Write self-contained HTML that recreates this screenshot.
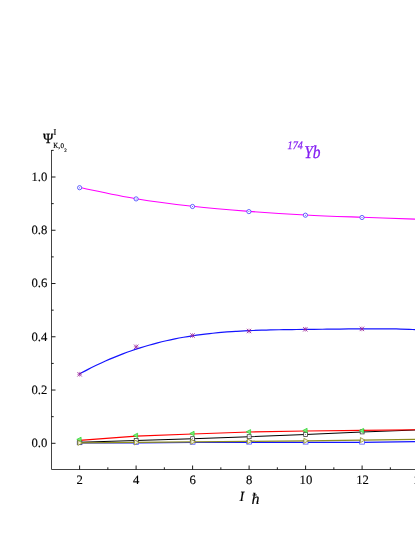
<!DOCTYPE html>
<html><head><meta charset="utf-8"><title>174Yb</title>
<style>
html,body{margin:0;padding:0;background:#fff;}
body{width:415px;height:537px;overflow:hidden;position:relative;font-family:"Liberation Serif",serif;}
svg{position:absolute;left:0;top:0;will-change:transform;text-rendering:geometricPrecision;}
text{font-family:"Liberation Serif",serif;fill:#000;}
.tk{font-size:12.7px;stroke:#000;stroke-width:0.13px;}
.b{stroke:#000;stroke-width:0.18px;}
</style></head><body>
<svg width="415" height="537" viewBox="0 0 415 537">
<path d="M51.5 150.0V469.5H415" fill="none" stroke="#444" stroke-width="1"/>
<path d="M51.5 443.30h4M51.5 416.67h2.2M51.5 390.04h4M51.5 363.41h2.2M51.5 336.78h4M51.5 310.15h2.2M51.5 283.52h4M51.5 256.89h2.2M51.5 230.26h4M51.5 203.63h2.2M51.5 177.00h4M51.5 150.37h2.2M79.60 469.5v-4M107.85 469.5v-2.2M136.10 469.5v-4M164.35 469.5v-2.2M192.60 469.5v-4M220.85 469.5v-2.2M249.10 469.5v-4M277.35 469.5v-2.2M305.60 469.5v-4M333.85 469.5v-2.2M362.10 469.5v-4M390.35 469.5v-2.2" fill="none" stroke="#000" stroke-width="0.9"/>
<text x="47.3" y="447.20" text-anchor="end" class="tk">0.0</text>
<text x="47.3" y="393.94" text-anchor="end" class="tk">0.2</text>
<text x="47.3" y="340.68" text-anchor="end" class="tk">0.4</text>
<text x="47.3" y="287.42" text-anchor="end" class="tk">0.6</text>
<text x="47.3" y="234.16" text-anchor="end" class="tk">0.8</text>
<text x="47.3" y="180.90" text-anchor="end" class="tk">1.0</text>
<text x="79.60" y="483.8" text-anchor="middle" class="tk">2</text>
<text x="136.10" y="483.8" text-anchor="middle" class="tk">4</text>
<text x="192.60" y="483.8" text-anchor="middle" class="tk">6</text>
<text x="249.10" y="483.8" text-anchor="middle" class="tk">8</text>
<text x="305.90" y="483.8" text-anchor="middle" class="tk">10</text>
<text x="362.50" y="483.8" text-anchor="middle" class="tk">12</text>
<text x="419.60" y="483.8" text-anchor="middle" class="tk">14</text>
<path d="M79.60 443.00L136.10 442.90L192.60 442.50L249.10 442.40L305.60 442.40L362.10 442.40L418.60 441.60" fill="none" stroke="#1414ff" stroke-width="1.2" stroke-linejoin="round"/>
<rect x="77.20" y="441.10" width="4.8" height="3.6" fill="#fff" stroke="#3a3aff" stroke-width="0.7"/>
<rect x="133.70" y="441.00" width="4.8" height="3.6" fill="#fff" stroke="#3a3aff" stroke-width="0.7"/>
<rect x="190.20" y="440.60" width="4.8" height="3.6" fill="#fff" stroke="#3a3aff" stroke-width="0.7"/>
<rect x="246.70" y="440.50" width="4.8" height="3.6" fill="#fff" stroke="#3a3aff" stroke-width="0.7"/>
<rect x="303.20" y="440.50" width="4.8" height="3.6" fill="#fff" stroke="#3a3aff" stroke-width="0.7"/>
<rect x="359.70" y="440.50" width="4.8" height="3.6" fill="#fff" stroke="#3a3aff" stroke-width="0.7"/>
<rect x="416.20" y="439.70" width="4.8" height="3.6" fill="#fff" stroke="#3a3aff" stroke-width="0.7"/>
<path d="M79.60 442.30L136.10 440.50L192.60 438.70L249.10 436.70L305.60 434.50L362.10 431.90L418.60 429.90" fill="none" stroke="#000" stroke-width="1.05" stroke-linejoin="round"/>
<rect x="77.70" y="440.30" width="3.9" height="4.0" fill="#fff" stroke="#333" stroke-width="0.75"/><circle cx="79.60" cy="442.30" r="0.45" fill="#222"/>
<rect x="134.20" y="438.50" width="3.9" height="4.0" fill="#fff" stroke="#333" stroke-width="0.75"/><circle cx="136.10" cy="440.50" r="0.45" fill="#222"/>
<rect x="190.70" y="436.70" width="3.9" height="4.0" fill="#fff" stroke="#333" stroke-width="0.75"/><circle cx="192.60" cy="438.70" r="0.45" fill="#222"/>
<rect x="247.20" y="434.70" width="3.9" height="4.0" fill="#fff" stroke="#333" stroke-width="0.75"/><circle cx="249.10" cy="436.70" r="0.45" fill="#222"/>
<rect x="303.70" y="432.50" width="3.9" height="4.0" fill="#fff" stroke="#333" stroke-width="0.75"/><circle cx="305.60" cy="434.50" r="0.45" fill="#222"/>
<rect x="360.20" y="429.90" width="3.9" height="4.0" fill="#fff" stroke="#333" stroke-width="0.75"/><circle cx="362.10" cy="431.90" r="0.45" fill="#222"/>
<rect x="416.70" y="427.90" width="3.9" height="4.0" fill="#fff" stroke="#333" stroke-width="0.75"/><circle cx="418.60" cy="429.90" r="0.45" fill="#222"/>
<path d="M79.60 440.30L136.10 436.10L192.60 434.00L249.10 432.00L305.60 431.00L362.10 430.40L418.60 429.70" fill="none" stroke="#ff0000" stroke-width="1.2" stroke-linejoin="round"/>
<path d="M81.10 437.20L76.80 439.40L81.10 441.60Z" fill="#7dea7d" stroke="#30d630" stroke-width="0.75"/>
<path d="M137.60 433.20L133.30 435.40L137.60 437.60Z" fill="#7dea7d" stroke="#30d630" stroke-width="0.75"/>
<path d="M194.10 431.30L189.80 433.50L194.10 435.70Z" fill="#7dea7d" stroke="#30d630" stroke-width="0.75"/>
<path d="M250.60 429.60L246.30 431.80L250.60 434.00Z" fill="#7dea7d" stroke="#30d630" stroke-width="0.75"/>
<path d="M307.10 428.30L302.80 430.50L307.10 432.70Z" fill="#7dea7d" stroke="#30d630" stroke-width="0.75"/>
<path d="M363.60 428.40L359.30 430.60L363.60 432.80Z" fill="#7dea7d" stroke="#30d630" stroke-width="0.75"/>
<path d="M420.10 427.30L415.80 429.50L420.10 431.70Z" fill="#7dea7d" stroke="#30d630" stroke-width="0.75"/>
<path d="M79.60 442.90L136.10 442.40L192.60 441.80L249.10 441.30L305.60 440.80L362.10 440.10L418.60 439.30" fill="none" stroke="#8c8c1e" stroke-width="1.25" stroke-linejoin="round"/>
<path d="M77.90 440.40L82.40 442.90L77.90 445.40Z" fill="#f3f0e2" stroke="#8c8c1e" stroke-width="0.75"/>
<path d="M134.40 439.90L138.90 442.40L134.40 444.90Z" fill="#f3f0e2" stroke="#8c8c1e" stroke-width="0.75"/>
<path d="M190.90 439.30L195.40 441.80L190.90 444.30Z" fill="#f3f0e2" stroke="#8c8c1e" stroke-width="0.75"/>
<path d="M247.40 438.80L251.90 441.30L247.40 443.80Z" fill="#f3f0e2" stroke="#8c8c1e" stroke-width="0.75"/>
<path d="M303.90 438.30L308.40 440.80L303.90 443.30Z" fill="#f3f0e2" stroke="#8c8c1e" stroke-width="0.75"/>
<path d="M360.40 437.60L364.90 440.10L360.40 442.60Z" fill="#f3f0e2" stroke="#8c8c1e" stroke-width="0.75"/>
<path d="M416.90 436.80L421.40 439.30L416.90 441.80Z" fill="#f3f0e2" stroke="#8c8c1e" stroke-width="0.75"/>
<path d="M79.40 373.91C80.85 373.15 85.19 370.83 88.08 369.36C90.98 367.89 93.87 366.46 96.76 365.08C99.66 363.70 102.55 362.36 105.45 361.07C108.34 359.78 111.23 358.54 114.13 357.34C117.02 356.15 119.92 355.00 122.81 353.90C125.70 352.79 128.60 351.74 131.49 350.73C134.39 349.72 137.28 348.75 140.17 347.84C143.07 346.92 145.96 346.04 148.86 345.21C151.75 344.38 154.64 343.60 157.54 342.86C160.43 342.11 163.33 341.41 166.22 340.75C169.11 340.09 172.01 339.47 174.90 338.89C177.80 338.30 180.69 337.76 183.58 337.25C186.48 336.74 189.37 336.27 192.27 335.83C195.16 335.39 198.05 334.98 200.95 334.60C203.84 334.22 206.74 333.88 209.63 333.56C212.52 333.24 215.42 332.95 218.31 332.68C221.21 332.42 224.10 332.18 226.99 331.96C229.89 331.74 232.78 331.54 235.68 331.36C238.57 331.18 241.46 331.02 244.36 330.88C247.25 330.74 250.15 330.61 253.04 330.50C255.94 330.38 258.83 330.28 261.72 330.19C264.62 330.10 267.51 330.03 270.41 329.96C273.30 329.89 276.19 329.83 279.09 329.77C281.98 329.72 284.88 329.67 287.77 329.63C290.66 329.58 293.56 329.54 296.45 329.51C299.35 329.47 302.24 329.44 305.13 329.41C308.03 329.38 310.92 329.35 313.82 329.32C316.71 329.29 319.60 329.26 322.50 329.23C325.39 329.20 328.29 329.17 331.18 329.14C334.07 329.12 336.97 329.09 339.86 329.06C342.76 329.03 345.65 329.00 348.54 328.97C351.44 328.95 354.33 328.92 357.23 328.90C360.12 328.88 363.01 328.85 365.91 328.84C368.80 328.82 371.70 328.81 374.59 328.81C377.48 328.80 380.38 328.80 383.27 328.82C386.17 328.84 389.06 328.86 391.95 328.90C394.85 328.94 397.74 328.99 400.64 329.06C403.53 329.14 406.42 329.23 409.32 329.35C412.21 329.47 416.55 329.71 418.00 329.78" fill="none" stroke="#1414ff" stroke-width="1.2"/>
<path d="M77.40 372.10l4.4 4.4M77.40 376.50l4.4 -4.4M134.00 344.60l4.4 4.4M134.00 349.00l4.4 -4.4M190.30 333.30l4.4 4.4M190.30 337.70l4.4 -4.4M246.80 328.80l4.4 4.4M246.80 333.20l4.4 -4.4M303.10 327.10l4.4 4.4M303.10 331.50l4.4 -4.4M359.70 326.70l4.4 4.4M359.70 331.10l4.4 -4.4M416.10 327.00l4.4 4.4M416.10 331.40l4.4 -4.4" fill="none" stroke="#8c0a8c" stroke-width="0.75"/>
<path d="M79.60 371.90v4.8M77.20 374.30h4.8M136.20 344.40v4.8M133.80 346.80h4.8M192.50 333.10v4.8M190.10 335.50h4.8M249.00 328.60v4.8M246.60 331.00h4.8M305.30 326.90v4.8M302.90 329.30h4.8M361.90 326.50v4.8M359.50 328.90h4.8M418.30 326.80v4.8M415.90 329.20h4.8" fill="none" stroke="#a030a0" stroke-width="0.55"/>
<path d="M79.60 187.50C89.02 189.37 117.28 195.57 136.10 198.70C154.92 201.83 173.70 204.18 192.50 206.30C211.30 208.42 230.08 209.95 248.90 211.40C267.72 212.85 286.55 214.02 305.40 215.00C324.25 215.98 343.15 216.60 362.00 217.30C380.85 218.00 409.08 218.88 418.50 219.20" fill="none" stroke="#ff00ff" stroke-width="1.15"/>
<circle cx="79.60" cy="187.70" r="2.1" fill="#fff" stroke="#3c3cff" stroke-width="0.8"/><circle cx="79.60" cy="187.70" r="0.5" fill="#3c3cff"/>
<circle cx="136.10" cy="198.90" r="2.1" fill="#fff" stroke="#3c3cff" stroke-width="0.8"/><circle cx="136.10" cy="198.90" r="0.5" fill="#3c3cff"/>
<circle cx="192.50" cy="206.50" r="2.1" fill="#fff" stroke="#3c3cff" stroke-width="0.8"/><circle cx="192.50" cy="206.50" r="0.5" fill="#3c3cff"/>
<circle cx="248.90" cy="211.60" r="2.1" fill="#fff" stroke="#3c3cff" stroke-width="0.8"/><circle cx="248.90" cy="211.60" r="0.5" fill="#3c3cff"/>
<circle cx="305.40" cy="215.20" r="2.1" fill="#fff" stroke="#3c3cff" stroke-width="0.8"/><circle cx="305.40" cy="215.20" r="0.5" fill="#3c3cff"/>
<circle cx="362.00" cy="217.50" r="2.1" fill="#fff" stroke="#3c3cff" stroke-width="0.8"/><circle cx="362.00" cy="217.50" r="0.5" fill="#3c3cff"/>
<circle cx="418.50" cy="219.40" r="2.1" fill="#fff" stroke="#3c3cff" stroke-width="0.8"/><circle cx="418.50" cy="219.40" r="0.5" fill="#3c3cff"/>
<text x="43.1" y="142.9" font-size="14" style="stroke:#000;stroke-width:0.3px">Ψ</text>
<text x="53.5" y="135.0" font-size="8.3" class="b">I</text>
<text x="53.3" y="147.6" font-size="7.8" textLength="4.9" lengthAdjust="spacingAndGlyphs" class="b">K</text>
<text x="58.3" y="147.9" font-size="7.8" class="b">,</text>
<text x="60.5" y="148.3" font-size="7" class="b">0</text>
<text x="64.2" y="151.6" font-size="5" class="b">2</text>
<text x="287.6" y="148.9" font-size="11.5" font-style="italic" style="fill:#8420f2;stroke:#8420f2;stroke-width:0.25px" textLength="15.2" lengthAdjust="spacingAndGlyphs">174</text>
<text x="304.2" y="157.5" font-size="18" font-style="italic" style="fill:#8420f2;stroke:#8420f2;stroke-width:0.3px" textLength="16.3" lengthAdjust="spacingAndGlyphs">Yb</text>
<text x="239.6" y="500.8" font-size="14" font-style="italic" class="b">I</text>
<text x="251.4" y="503.9" font-size="16" font-style="italic" class="b">ħ</text>
</svg>
</body></html>
